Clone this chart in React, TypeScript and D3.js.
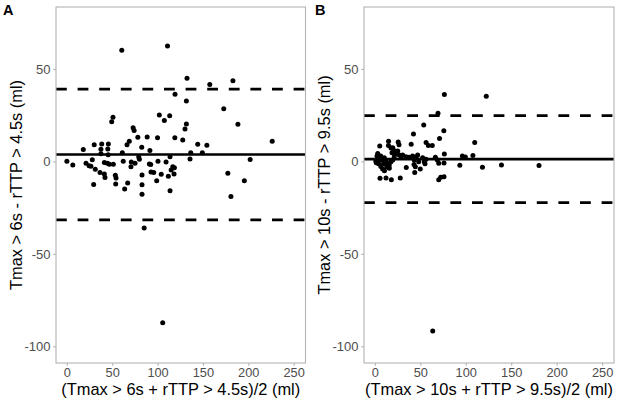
import React from 'react';
import * as d3 from 'd3';

// ---------- data ----------
const xTicks = [0, 50, 100, 150, 200, 250];
const yTicks = [-100, -50, 0, 50];
const xDomain: [number, number] = [-12.5, 262.5];
const yDomain: [number, number] = [-108.75, 83.75];

// Panel A: Tmax > 6s vs rTTP > 4.5s  [mean, difference]
const panelAPoints: [number, number][] = [
  [-0.5, 0.4], [6, -1.7], [17.6, 6.7], [20.6, -0.8], [24, -2.1], [26, -2.3], [27.5, 1.2],
  [29.6, 9.2], [30.8, -4.0], [29, -12.2], [36, -5.8], [40.8, -6.5], [41.5, -8.5],
  [37.9, 9.7], [45.2, 9.7], [37, 6.8], [44.6, 7.0], [37, 4.4], [45, 3.8],
  [40.8, -0.4], [44.1, -0.8], [46.3, -1.3], [50.7, -1.3], [52.9, -7.2], [53.7, -8.7],
  [53.3, -12], [50.3, 24.1], [48.9, 21.7], [60, 60.4], [60.6, 5.0], [61.6, 0.3],
  [63.2, -14.7], [66.5, -11.4], [65.8, 9.3], [68.3, 11.1], [70.5, -0.1], [70.1, -2.6],
  [74.6, -0.8], [72.5, 18.5], [73.6, 17.0], [77.7, 13.3], [78.7, 2.7], [79.4, 1.4],
  [82, 7.9], [82.3, -7.1], [82.3, -12.3], [82.3, -17.5], [84.7, -35.8], [88, 13.4],
  [91, 6.1], [90.4, -1.1], [91.9, -1.4], [92.2, -5.5], [95.2, -5.8], [98.5, -10.2],
  [99.9, 0.3], [99.4, 13.0], [101.4, 25.4], [106.9, 22.4], [112.8, 24.9], [108.8, -0.1],
  [110.4, 62.6], [113.2, 2.8], [116.2, -2.6], [118, -3.2], [114.4, -4.4], [103.5, -6.7],
  [111.3, -7.8], [117.6, -6.5], [113.2, -15.6], [105.1, -87.0], [118.7, 36.6], [118.5, 13.1],
  [127.2, 11.8], [131.9, 45.2], [131.2, 32.9], [131.2, 20.5], [129.7, 17.8], [136, 5.0],
  [135.2, 1.6], [143.7, 9.6], [148.8, 4.9], [153.8, 9.0], [157, 41.8], [172.4, 28.7],
  [176.9, -6.1], [180.3, -18.7], [182.5, 43.9], [188, 20.3], [195.1, -10.2], [201.5, 1.3],
  [225.8, 11.1],
];
const panelALines = [4.0, 39.3, -31.4]; // mean, upper LoA, lower LoA

// Panel B: Tmax > 10s vs rTTP > 9.5s
const panelBPoints: [number, number][] = [
  [75.9, 36.5], [122, 35.5], [68.9, 26.3], [75.3, 16.8], [53.2, 19.9], [41.9, 15.1],
  [70.6, 12.6], [109.3, 10.5], [55.8, 10.5], [58.3, 8.9], [62.6, 8.9], [39.4, 9.6],
  [25.1, 10.8], [26, 9.3], [14.5, 11.2], [14.4, 8.9], [17.2, 7.5], [4.8, 8.6],
  [19.1, 7.7], [20.5, 6.1], [21.3, 4.4], [18.3, 5.0],
  [2.6, 4.6], [1.8, 3.2], [2.9, 2.3], [5.1, 1.6], [7.3, 1.0], [9.8, 2.3], [11.7, 0.5],
  [12.8, -0.8], [15.3, -1.7], [14.7, -2.9], [17.2, 0.1], [19.1, 1.0], [20.8, 2.8],
  [22.7, 4.6], [24.6, 5.9], [26.3, 3.7], [28.2, 2.8], [30, 3.7], [33.7, 2.8], [37.3, 2.5],
  [41, 3.2], [44.7, 2.5], [46.5, 3.7], [42.8, 1.0], [47.6, 0.1], [52, 2.3], [55.7, 1.4],
  [53.8, 0.1], [34, -3.0], [44, -2.6], [43.3, -5.8], [49.4, -3.8], [42.5, -1.4],
  [0.5, 0.5], [3.5, -1.0], [6, -2.5], [8, -3.8], [9, -1], [10, -4.8], [4, 0.8], [1, -0.5],
  [5.9, 3.2], [9.5, 1.6], [11.4, 1.0], [10.6, -0.8], [14.2, -1.7], [15.3, -3.5], [12.5, -2.6],
  [54.6, -1.0], [66, 2.5], [68.2, 1.0], [69.7, -0.8], [75.9, 4.2], [75.5, -0.6],
  [92.9, -1.8], [95.7, 3.2], [97.6, 2.4], [99, 2.6], [107.3, 3.5], [117.8, -2.9],
  [138.7, -1.7], [180, -2.0], [69.7, -9.6], [71.9, -8.3], [75.5, -8.1], [5.1, -8.9],
  [11.7, -8.7], [17.6, -9.6], [27.4, -8.7], [63.1, -91.5],
];
const panelBLines = [1.5, 25.0, -22.0];

const panelLabels = ['A', 'B'];
const yTitles = ['Tmax > 6s - rTTP > 4.5s (ml)', 'Tmax > 10s - rTTP > 9.5s (ml)'];
const xTitles = ['(Tmax > 6s + rTTP > 4.5s)/2 (ml)', '(Tmax > 10s + rTTP > 9.5s)/2 (ml)'];

// ---------- layout ----------
const FONT = '"Liberation Sans", Arial, sans-serif';
const TOP = 7;
const BOTTOM = 363;

interface PanelProps {
  left: number;
  right: number;
  points: [number, number][];
  lines: number[];
  yTitle: string;
  xTitle: string;
  label: string;
  labelX: number;
  titleX: number;
}

function Panel({ left, right, points, lines, yTitle, xTitle, label, labelX, titleX }: PanelProps) {
  const x = d3.scaleLinear().domain(xDomain).range([left, right]);
  const y = d3.scaleLinear().domain(yDomain).range([BOTTOM, TOP]);
  const grey = '#b3b3b3';
  const [mean, upper, lower] = lines;
  return (
    <g>
      <text x={labelX} y={15} fontFamily={FONT} fontWeight="bold" fontSize={14.5} fill="#000">{label}</text>
      {/* points */}
      {points.map((p, i) => (
        <circle key={i} cx={x(p[0])} cy={y(p[1])} r={2.5} fill="#000" />
      ))}
      {/* reference lines */}
      <line x1={left} x2={right} y1={y(mean)} y2={y(mean)} stroke="#000" strokeWidth={2.7} />
      {[upper, lower].map((v, i) => (
        <line key={i} x1={left} x2={right} y1={y(v)} y2={y(v)} stroke="#000" strokeWidth={2.7}
          strokeDasharray="10.8 10.8" />
      ))}
      {/* panel border */}
      <rect x={left} y={TOP} width={right - left} height={BOTTOM - TOP} fill="none" stroke={grey} strokeWidth={1.1} />
      {/* y axis */}
      {yTicks.map(t => (
        <g key={t}>
          <line x1={left - 2.75} x2={left} y1={y(t)} y2={y(t)} stroke={grey} strokeWidth={1.1} />
          <text x={left - 5.5} y={y(t)} dy="0.35em" textAnchor="end" fontFamily={FONT} fontSize={13} fill="#4d4d4d">{t}</text>
        </g>
      ))}
      {/* x axis */}
      {xTicks.map(t => (
        <g key={t}>
          <line x1={x(t)} x2={x(t)} y1={BOTTOM} y2={BOTTOM + 2.75} stroke={grey} strokeWidth={1.1} />
          <text x={x(t)} y={377.3} textAnchor="middle" fontFamily={FONT} fontSize={12.8} fill="#4d4d4d">{t}</text>
        </g>
      ))}
      <text x={(left + right) / 2} y={394.5} textAnchor="middle" fontFamily={FONT} fontSize={16.4} fill="#000">{xTitle}</text>
      <text transform={`translate(${titleX},${(TOP + BOTTOM) / 2}) rotate(-90)`} textAnchor="middle"
        fontFamily={FONT} fontSize={16.4} fill="#000">{yTitle}</text>
    </g>
  );
}

export default function App() {
  return (
    <div>
      <style>{`body{margin:0;background:#fff}`}</style>
      <svg width={617} height={402} style={{ display: 'block', background: '#fff' }}>
        <Panel left={56} right={305.5} points={panelAPoints} lines={panelALines}
          yTitle={yTitles[0]} xTitle={xTitles[0]} label={panelLabels[0]} labelX={3} titleX={22} />
        <Panel left={364} right={614} points={panelBPoints} lines={panelBLines}
          yTitle={yTitles[1]} xTitle={xTitles[1]} label={panelLabels[1]} labelX={315} titleX={329.5} />
      </svg>
    </div>
  );
}
